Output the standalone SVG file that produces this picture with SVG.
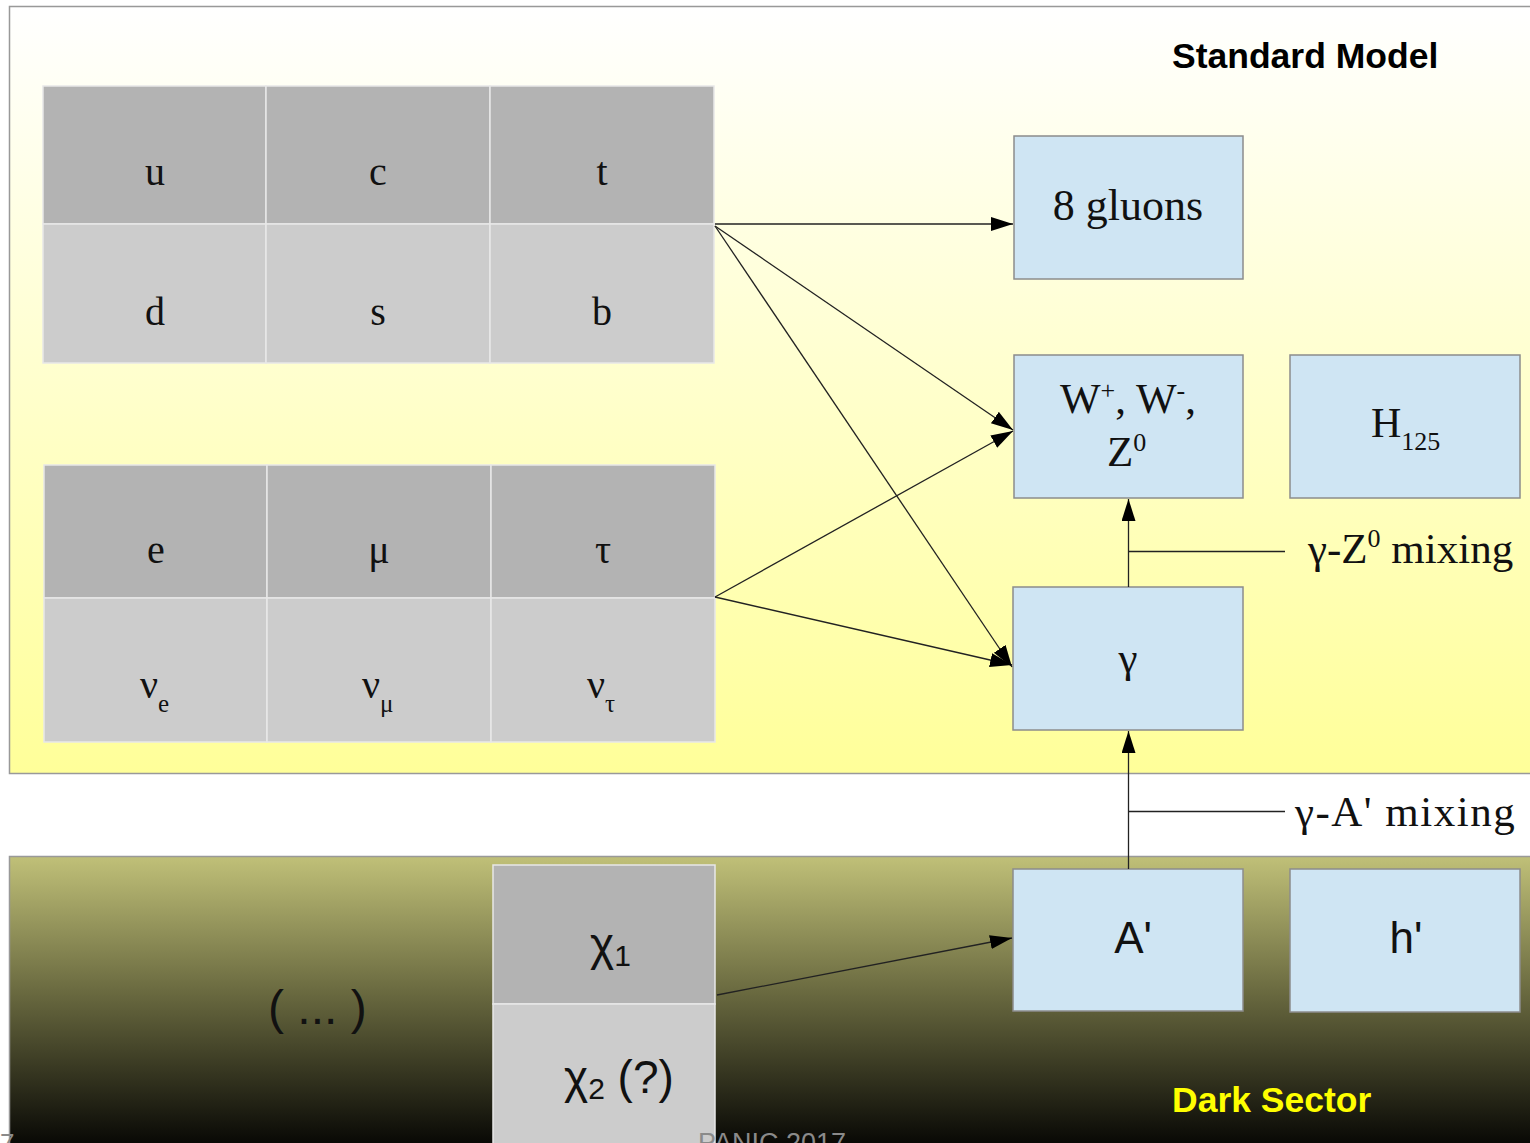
<svg xmlns="http://www.w3.org/2000/svg" width="1530" height="1143" viewBox="0 0 1530 1143">
<defs>
<linearGradient id="smg" x1="0" y1="0" x2="0" y2="1">
<stop offset="0" stop-color="#ffffff"/>
<stop offset="1" stop-color="#ffff99"/>
</linearGradient>
<linearGradient id="dsg" x1="0" y1="0" x2="0" y2="1">
<stop offset="0" stop-color="#c0c078"/>
<stop offset="0.45" stop-color="#6a6a40"/>
<stop offset="1" stop-color="#000000"/>
</linearGradient>
<marker id="ah" markerUnits="userSpaceOnUse" markerWidth="24" markerHeight="16" refX="22" refY="7" orient="auto">
<path d="M0,0 L22,7 L0,14 z" fill="#000"/>
</marker>
<style>
.panel{stroke:#999;stroke-width:1.5}
.dk{fill:#b3b3b3;stroke:#e8e8e8;stroke-width:1.5}
.lt{fill:#cccccc;stroke:#e8e8e8;stroke-width:1.5}
.bx{fill:#cfe5f3;stroke:#8c8c8c;stroke-width:1.5}
.sr{font-family:"Liberation Serif",serif;font-size:40px;fill:#111}
.ss{font-family:"Liberation Sans",sans-serif;font-size:44px;fill:#111}
.c{text-anchor:middle}
.ln{stroke:#222;stroke-width:1.3;fill:none}
</style>
</defs>

<rect x="0" y="0" width="1530" height="1143" fill="#fff"/>
<g id="standard-model-panel">
<rect class="panel" x="9.5" y="6.5" width="1530" height="767" fill="url(#smg)"/>
<text x="1172" y="68" font-family="Liberation Sans,sans-serif" font-weight="bold" font-size="35.5" fill="#000">Standard Model</text>
</g>
<g id="dark-sector-panel">
<rect class="panel" x="9.5" y="856.5" width="1530" height="300" fill="url(#dsg)"/>
<text x="1172" y="1112" font-family="Liberation Sans,sans-serif" font-weight="bold" font-size="35.5" fill="#ffff00">Dark Sector</text>
<text x="268" y="1024" class="ss" style="font-size:48px">( ... )</text>
</g>

<g id="quarks">
<rect class="dk" x="43" y="86" width="223" height="138"/>
<rect class="dk" x="266" y="86" width="224" height="138"/>
<rect class="dk" x="490" y="86" width="224" height="138"/>
<rect class="lt" x="43" y="224" width="223" height="139"/>
<rect class="lt" x="266" y="224" width="224" height="139"/>
<rect class="lt" x="490" y="224" width="224" height="139"/>
<text class="sr c" x="155" y="185">u</text>
<text class="sr c" x="378" y="185">c</text>
<text class="sr c" x="602" y="185">t</text>
<text class="sr c" x="155" y="325">d</text>
<text class="sr c" x="378" y="325">s</text>
<text class="sr c" x="602" y="325">b</text>
</g>

<g id="leptons">
<rect class="dk" x="44" y="465" width="223" height="133"/>
<rect class="dk" x="267" y="465" width="224" height="133"/>
<rect class="dk" x="491" y="465" width="224" height="133"/>
<rect class="lt" x="44" y="598" width="223" height="144"/>
<rect class="lt" x="267" y="598" width="224" height="144"/>
<rect class="lt" x="491" y="598" width="224" height="144"/>
<text class="sr c" x="156" y="563">e</text>
<text class="sr c" x="379" y="563">μ</text>
<text class="sr c" x="603" y="563">τ</text>
<text class="sr" x="140" y="698">ν<tspan font-size="25" dy="14">e</tspan></text>
<text class="sr" x="362" y="698">ν<tspan font-size="25" dy="14">μ</tspan></text>
<text class="sr" x="587" y="698">ν<tspan font-size="25" dy="14">τ</tspan></text>
</g>

<g id="gluons">
<rect class="bx" x="1014" y="136" width="229" height="143"/>
<text class="sr c" x="1128" y="220" style="font-size:44px">8 gluons</text>
</g>
<g id="w-z">
<rect class="bx" x="1014" y="355" width="229" height="143"/>
<text class="sr" x="1060" y="413" style="font-size:43px">W<tspan font-size="26" dy="-14">+</tspan><tspan dy="14">, W</tspan><tspan font-size="26" dy="-14">-</tspan><tspan dy="14">,</tspan></text>
<text class="sr" x="1107" y="466" style="font-size:43px">Z<tspan font-size="26" dy="-15">0</tspan></text>
</g>
<g id="higgs">
<rect class="bx" x="1290" y="355" width="230" height="143"/>
<text class="sr" x="1371" y="437" style="font-size:42px">H<tspan font-size="26" dy="13">125</tspan></text>
</g>
<g id="photon">
<rect class="bx" x="1013" y="587" width="230" height="143"/>
<text class="sr c" x="1128" y="672" style="font-size:43px">γ</text>
</g>
<g id="a-prime">
<rect class="bx" x="1013" y="869" width="230" height="142"/>
<text class="ss c" x="1133" y="953">A'</text>
</g>
<g id="h-prime">
<rect class="bx" x="1290" y="869" width="230" height="143"/>
<text class="ss c" x="1406" y="953">h'</text>
</g>
<g id="chi">
<rect class="dk" x="493" y="865" width="222" height="139"/>
<rect class="lt" x="493" y="1004" width="222" height="150"/>
<text class="ss" x="590" y="960" style="font-size:46px">χ<tspan font-size="30" dy="6">1</tspan></text>
<text class="ss" x="564" y="1093" style="font-size:46px">χ<tspan font-size="30" dy="6">2</tspan><tspan dy="-6"> (?)</tspan></text>
</g>

<g id="mixing-labels">
<text class="sr" x="1308" y="563" style="font-size:43px">γ-Z<tspan font-size="26" dy="-16">0</tspan><tspan dy="16"> mixing</tspan></text>
<text class="sr" x="1295" y="826" style="font-size:43px" letter-spacing="1.5">γ-A' mixing</text>
</g>

<g id="connectors">
<line class="ln" x1="715" y1="224" x2="1013" y2="224" marker-end="url(#ah)"/>
<line class="ln" x1="715" y1="226" x2="1013" y2="430" marker-end="url(#ah)"/>
<line class="ln" x1="715" y1="226" x2="1012" y2="667" marker-end="url(#ah)"/>
<line class="ln" x1="715" y1="597" x2="1013" y2="431" marker-end="url(#ah)"/>
<line class="ln" x1="715" y1="597" x2="1012" y2="665" marker-end="url(#ah)"/>
<line class="ln" x1="1128.5" y1="587" x2="1128.5" y2="499" marker-end="url(#ah)"/>
<line class="ln" x1="1128.5" y1="551.5" x2="1285" y2="551.5"/>
<line class="ln" x1="1128.5" y1="869" x2="1128.5" y2="731" marker-end="url(#ah)"/>
<line class="ln" x1="1128.5" y1="811.5" x2="1285" y2="811.5"/>
<line class="ln" x1="717" y1="995" x2="1012" y2="938" marker-end="url(#ah)"/>
</g>

<g id="footer">
<text x="0" y="1152" font-family="Liberation Sans,sans-serif" font-size="26" fill="#8a8a8a">7</text>
<text x="698" y="1152" font-family="Liberation Sans,sans-serif" font-size="27" fill="#8a8a8a">PANIC 2017</text>
</g>
</svg>
